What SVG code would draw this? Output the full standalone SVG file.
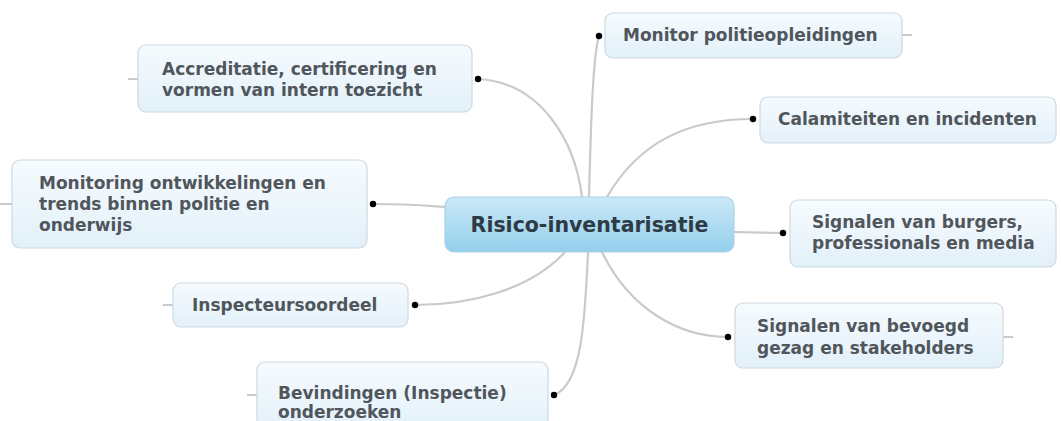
<svg xmlns="http://www.w3.org/2000/svg" width="1061" height="421" viewBox="0 0 1061 421">
<defs>
<linearGradient id="gNode" x1="0" y1="0" x2="0" y2="1">
<stop offset="0" stop-color="#f6fbfe"/>
<stop offset="1" stop-color="#e2f0f9"/>
</linearGradient>
<linearGradient id="gRoot" x1="0" y1="0" x2="0" y2="1">
<stop offset="0" stop-color="#cbe9f8"/>
<stop offset="1" stop-color="#93cfec"/>
</linearGradient>
</defs>
<style>
.node rect{fill:url(#gNode);stroke:#cdd9df;stroke-width:1.2}
.root rect{fill:url(#gRoot);stroke:#a8d2e6;stroke-width:1.2}
text{font-family:"DejaVu Sans",Verdana,sans-serif;font-weight:bold}
.node text{font-size:17px;fill:#50565c}
.root text{font-size:20.5px;fill:#2f3b44}
.conn path{fill:none;stroke:#cacaca;stroke-width:2.2}
.stub{stroke:#d8d8d8;stroke-width:1;fill:none}
.dot{fill:#000}
</style>
<rect width="1061" height="421" fill="#ffffff"/>
<g id="connectors" class="conn">
<path d="M589,197 C591,120 593,55 599,36"/>
<path d="M478,79 C540,82 575,140 582,197"/>
<path d="M607,197 C640,140 690,119 753,119"/>
<path d="M373,204 C410,204 430,206 446,207"/>
<path d="M734,232 L783,233"/>
<path d="M565,252 C530,290 470,305 415,305"/>
<path d="M588,252 C585,320 582,385 554,395"/>
<path d="M602,252 C630,310 680,337 728,337"/>
<path class="stub" d="M902,35 H912 M128,79 H138 M0,204 H12 M163,305 H173 M247,395 H257 M1003,337 H1013"/>
<circle class="dot" cx="599" cy="36" r="3.2"/>
<circle class="dot" cx="478" cy="79" r="3.2"/>
<circle class="dot" cx="753" cy="119" r="3.2"/>
<circle class="dot" cx="373" cy="204" r="3.2"/>
<circle class="dot" cx="783" cy="233" r="3.2"/>
<circle class="dot" cx="415" cy="305" r="3.2"/>
<circle class="dot" cx="728" cy="337" r="3.2"/>
<circle class="dot" cx="554" cy="395" r="3.2"/>
</g>
<g id="root" class="root">
<rect x="445" y="197" width="289" height="55" rx="9"/>
<text x="589.5" y="232" text-anchor="middle">Risico-inventarisatie</text>
</g>
<g id="n-monitor" class="node">
<rect x="605" y="13" width="297" height="45" rx="8"/>
<text x="623" y="41">Monitor politieopleidingen</text>
</g>
<g id="n-accreditatie" class="node">
<rect x="138" y="45" width="334" height="67" rx="8"/>
<text x="162" y="75">Accreditatie, certificering en</text>
<text x="162" y="96">vormen van intern toezicht</text>
</g>
<g id="n-calamiteiten" class="node">
<rect x="760" y="97" width="296" height="46" rx="8"/>
<text x="778" y="125">Calamiteiten en incidenten</text>
</g>
<g id="n-monitoring" class="node">
<rect x="12" y="160" width="355" height="88" rx="8"/>
<text x="39" y="189">Monitoring ontwikkelingen en</text>
<text x="39" y="210">trends binnen politie en</text>
<text x="39" y="231">onderwijs</text>
</g>
<g id="n-burgers" class="node">
<rect x="790" y="200" width="266" height="67" rx="8"/>
<text x="812" y="228">Signalen van burgers,</text>
<text x="812" y="249">professionals en media</text>
</g>
<g id="n-inspecteur" class="node">
<rect x="173" y="283" width="235" height="44" rx="8"/>
<text x="192" y="311">Inspecteursoordeel</text>
</g>
<g id="n-bevoegd" class="node">
<rect x="735" y="303" width="268" height="65" rx="8"/>
<text x="757" y="332">Signalen van bevoegd</text>
<text x="757" y="354">gezag en stakeholders</text>
</g>
<g id="n-bevindingen" class="node">
<rect x="257" y="362" width="291" height="70" rx="8"/>
<text x="278" y="399">Bevindingen (Inspectie)</text>
<text x="278" y="418">onderzoeken</text>
</g>
</svg>
